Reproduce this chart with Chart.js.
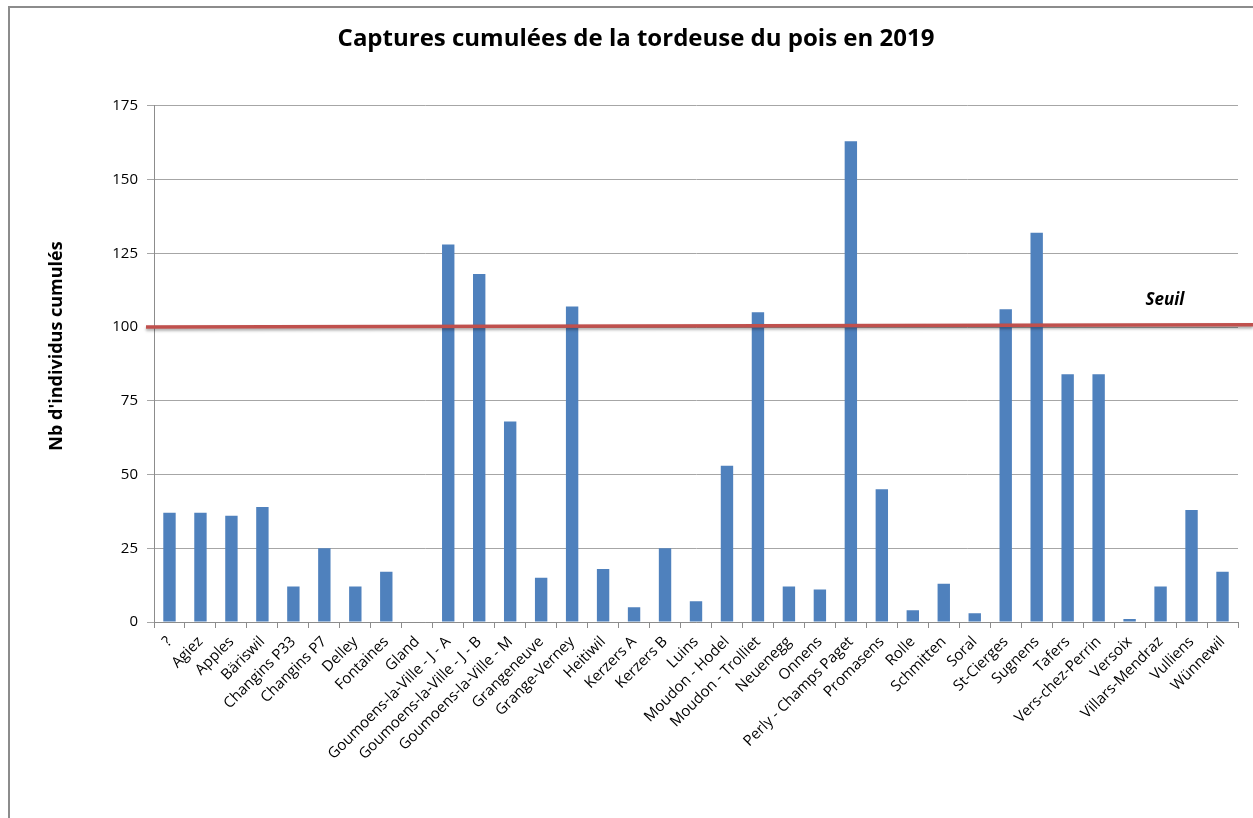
<!DOCTYPE html>
<html>
<head>
<meta charset="utf-8">
<script src="https://cdn.jsdelivr.net/npm/chart.js@4/dist/chart.umd.min.js"></script>
<style>
  html, body { margin: 0; padding: 0; background: #fff; }
  #wrap { position: relative; width: 1253px; height: 818px; overflow: hidden; }
  #frame { position: absolute; left: 8px; top: 6px; width: 1300px; height: 900px;
           border-left: 2px solid #8c8c8c; border-top: 2px solid #8c8c8c; }
  canvas { position: absolute; left: 0; top: 0; }
</style>
</head>
<body>
<div id="wrap">
  <div id="frame"></div>
  <canvas id="chartTordeuse" width="1253" height="818"></canvas>
</div>
<script>
// lieux de piégeage
var lieux = ["?", "Agiez", "Apples", "Bäriswil", "Changins P33", "Changins P7", "Delley", "Fontaines", "Gland",
  "Goumoens-la-Ville - J - A", "Goumoens-la-Ville - J - B", "Goumoens-la-Ville - M", "Grangeneuve", "Grange-Verney",
  "Heitiwil", "Kerzers A", "Kerzers B", "Luins", "Moudon - Hodel", "Moudon - Trolliet", "Neuenegg", "Onnens",
  "Perly - Champs Paget", "Promasens", "Rolle", "Schmitten", "Soral", "St-Cierges", "Sugnens", "Tafers",
  "Vers-chez-Perrin", "Versoix", "Villars-Mendraz", "Vulliens", "Wünnewil"];
// captures cumulées
var captures = [37, 37, 36, 39, 12, 25, 12, 17, 0,
  128, 118, 68, 15, 107,
  18, 5, 25, 7, 53, 105, 12, 11,
  163, 45, 4, 13, 3, 106, 132, 84,
  84, 1, 12, 38, 17];
// seuil (ligne rouge, un peu penchée comme dans l'original)
var seuilDebut = 100;
var seuilFin = 100.8;
var seuilTexteValeur = 109;
var yTicks = [0, 25, 50, 75, 100, 125, 150, 175];

var policeTexte = "'Open Sans', 'DejaVu Sans', sans-serif";

// ligne de seuil, texte "Seuil" et titre de l'axe Y
var seuilPlugin = {
  id: 'seuil',
  afterDatasetsDraw: function(chart){
    var ctx = chart.ctx;
    var y = chart.scales.y;
    var x0 = chart.chartArea.left - 8;
    var x1 = chart.width;
    var y0 = y.getPixelForValue(seuilDebut);
    var y1 = y.getPixelForValue(seuilFin);
    ctx.save();
    ctx.shadowColor = 'rgba(0,0,0,0.35)';
    ctx.shadowOffsetY = 2;
    ctx.shadowBlur = 3;
    ctx.strokeStyle = '#C0504D';
    ctx.lineWidth = 3.5;
    ctx.beginPath();
    ctx.moveTo(x0, y0);
    ctx.lineTo(x1, y1);
    ctx.stroke();
    ctx.restore();

    ctx.save();
    ctx.font = "italic bold 17px " + policeTexte;
    ctx.fillStyle = '#000';
    ctx.textAlign = 'center';
    ctx.textBaseline = 'middle';
    ctx.fillText('Seuil', 1165, y.getPixelForValue(seuilTexteValeur));
    ctx.restore();

    // titre axe Y
    ctx.save();
    ctx.translate(57, 346);
    ctx.rotate(-Math.PI / 2);
    ctx.font = "bold 18px " + policeTexte;
    ctx.fillStyle = '#000';
    ctx.textAlign = 'center';
    ctx.textBaseline = 'middle';
    ctx.fillText("Nb d'individus cumulés", 0, 0);
    ctx.restore();
  }
};

new Chart("chartTordeuse", {
  type: "bar",
  data: {
    labels: lieux,
    datasets: [{
      label: "Captures",
      backgroundColor: "#4F81BD",
      borderColor: "#4F81BD",
      data: captures,
      categoryPercentage: 1.0,
      barPercentage: 0.4
    }]
  },
  plugins: [seuilPlugin],
  options: {
    responsive: false,
    animation: false,
    devicePixelRatio: 1,
    layout: {
      padding: { left: 34, right: 15, top: 0, bottom: 0 }
    },
    plugins: {
      legend: { display: false },
      tooltip: { enabled: false },
      title: {
        display: true,
        text: "Captures cumulées de la tordeuse du pois en 2019",
        color: "#000",
        font: { family: policeTexte, size: 24, weight: "bold" },
        padding: { top: 25, bottom: 52 }
      }
    },
    scales: {
      x: {
        grid: {
          drawOnChartArea: false,
          drawTicks: true,
          tickLength: 6,
          color: "#8c8c8c",
          offset: true
        },
        border: { color: "#8c8c8c", width: 1 },
        ticks: {
          autoSkip: false,
          maxRotation: 45,
          minRotation: 45,
          color: "#000",
          font: { family: policeTexte, size: 15 },
          padding: 5
        },
        afterFit: function(scale){ scale.height = 196; }
      },
      y: {
        min: 0,
        max: 175,
        afterBuildTicks: function(scale){
          scale.ticks = yTicks.map(function(v){ return { value: v }; });
        },
        grid: {
          color: "#a6a6a6",
          tickLength: 7
        },
        border: { color: "#8c8c8c", width: 1 },
        ticks: {
          color: "#000",
          font: { family: policeTexte, size: 15 },
          padding: 9
        },
        afterFit: function(scale){ scale.width = 120; }
      }
    }
  }
});
</script>
</body>
</html>
